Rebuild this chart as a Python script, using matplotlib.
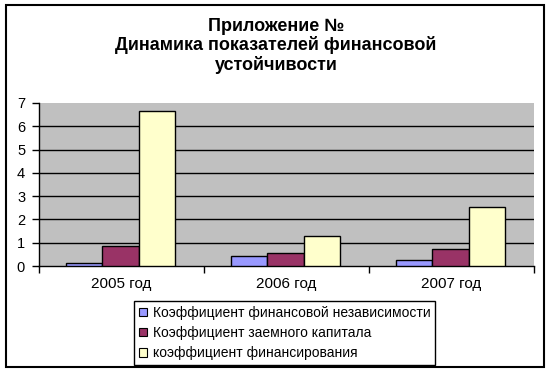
import numpy as np
import matplotlib.pyplot as plt
from matplotlib.patches import Rectangle

plt.rcParams['font.family'] = ['Liberation Sans', 'DejaVu Sans']

# Data
years = ['2005 год', '2006 год', '2007 год']
series_names = ['Коэффициент финансовой независимости',
                'Коэффициент заемного капитала',
                'коэффициент финансирования']
fin_independence = [0.13, 0.43, 0.25]
borrowed_capital = [0.86, 0.55, 0.72]
financing = [6.66, 1.29, 2.53]
colors = ['#9999FF', '#993366', '#FFFFCC']

fig = plt.figure(figsize=(5.52, 3.73), dpi=100)
ax = fig.add_axes([39/552, 1-266/373, (534-39)/552, (266-103)/373])
ax.set_facecolor('#C0C0C0')

x = np.arange(len(years))
w = 0.222
for i, (vals, name) in enumerate(zip([fin_independence, borrowed_capital, financing], series_names)):
    ax.bar(x + (i - 1) * w - 0.006, vals, w, color=colors[i], edgecolor='black',
           linewidth=1, label=name, zorder=3)

ax.set_xlim(-0.5, 2.5)
ax.set_ylim(0, 7)
ax.set_yticks(range(0, 8))
for yv in range(1, 7):
    ax.axhline(yv, color='black', linewidth=1, zorder=1)

ax.set_xticks(x)
ax.set_xticklabels(years, fontsize=11)
ax.set_xticks([-0.5, 0.5, 1.5, 2.5], minor=True)
ax.tick_params(axis='x', which='major', length=0, pad=8)
ax.tick_params(axis='x', which='minor', length=5, direction='out', width=1)
ax.tick_params(axis='y', length=5, direction='out', width=1, labelsize=10.5, pad=5)

for side in ['top', 'right']:
    ax.spines[side].set_visible(False)
for side in ['left', 'bottom']:
    ax.spines[side].set_linewidth(1)

fig.text(276/552, 1-18/373, 'Приложение №\nДинамика показателей финансовой\nустойчивости',
         ha='center', va='top', fontsize=13, fontweight='bold', linespacing=1.1)

leg = fig.legend(loc='upper left', bbox_to_anchor=(134/552, 1-301/373),
                 borderaxespad=0, fontsize=10, handlelength=0.55, handleheight=0.55,
                 handletextpad=0.45, labelspacing=0.45, borderpad=0.35,
                 fancybox=False, framealpha=1, edgecolor='black')
leg.get_frame().set_linewidth(1)
for h in leg.legend_handles:
    h.set_linewidth(0.8)

fig.patches.append(Rectangle((6/552, 1-367/373), 538/552, 362/373, transform=fig.transFigure,
                             fill=False, edgecolor='black', linewidth=1.5))

fig.savefig('out.png', dpi=100)
